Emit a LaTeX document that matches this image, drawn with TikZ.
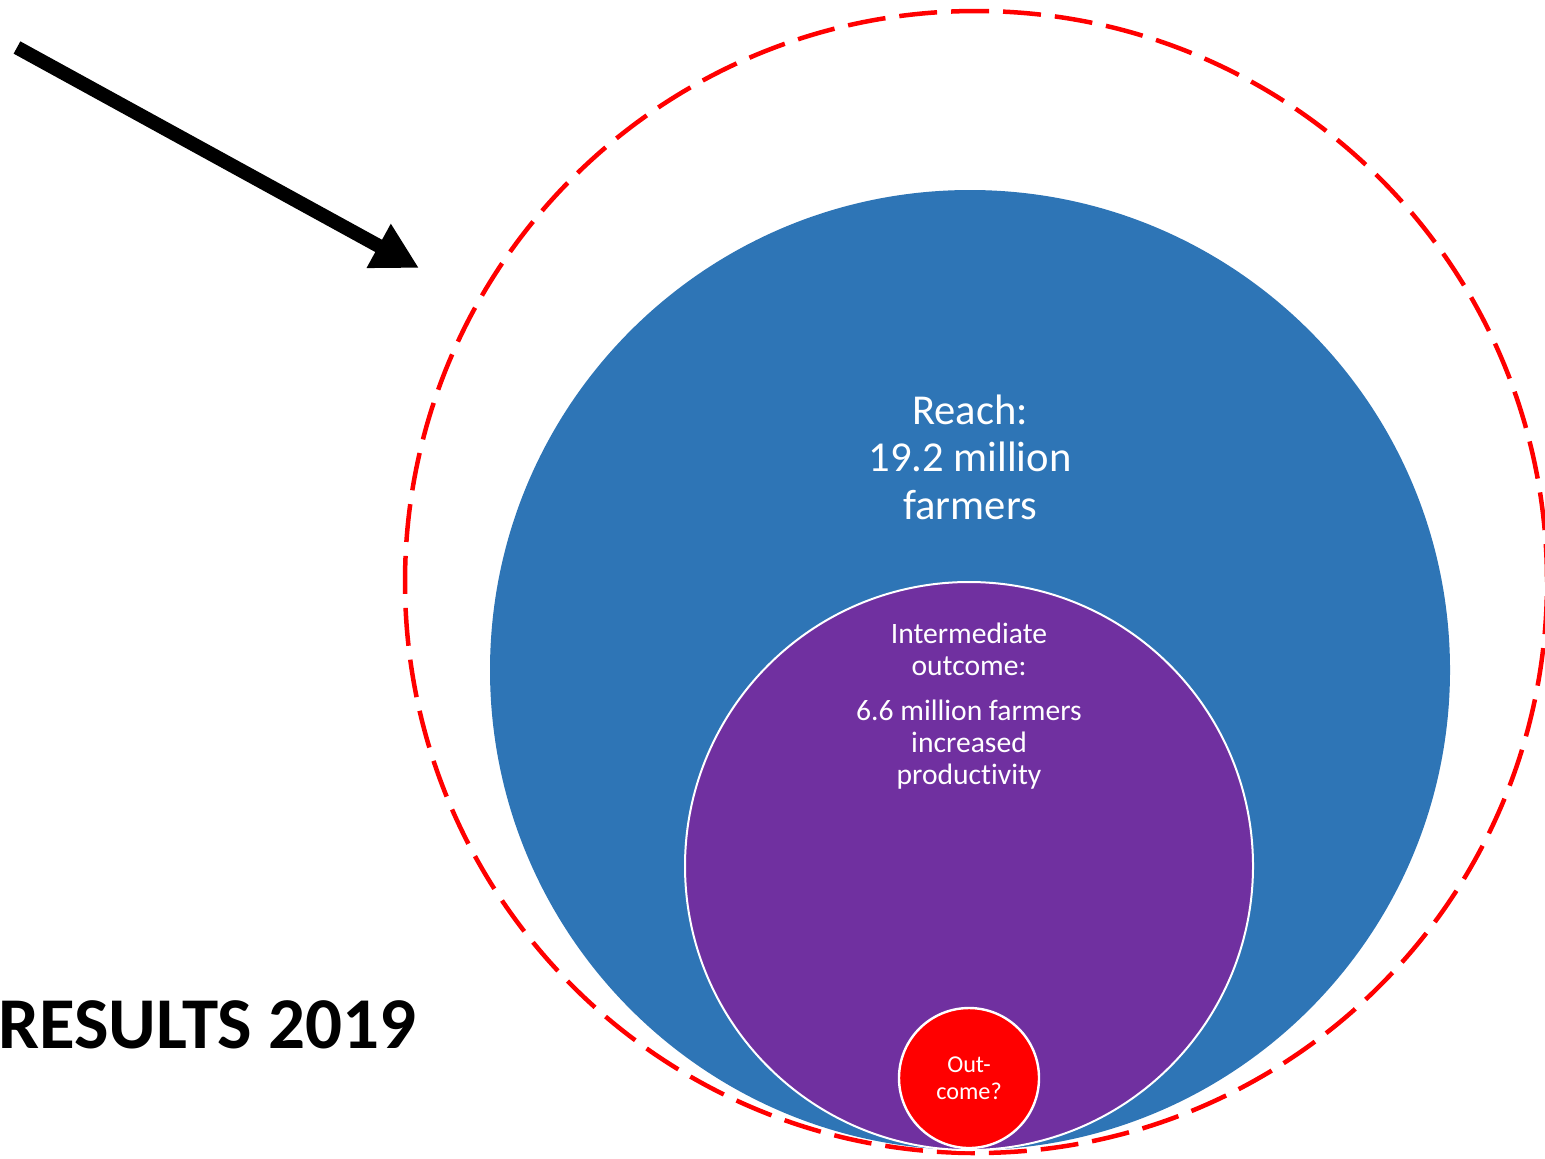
\documentclass[tikz,border=0pt]{standalone}
\usepackage{fontspec}
\setmainfont{Carlito}[Ligatures={NoCommon}]
\usetikzlibrary{arrows.meta}
\definecolor{reachblue}{RGB}{46,117,182}
\definecolor{outpurple}{RGB}{112,48,160}
\definecolor{outred}{RGB}{255,0,0}
\begin{document}
\begin{tikzpicture}[x=0.5pt,y=-0.5pt,
  disc/.style={circle,inner sep=0pt,outer sep=0pt},
  label/.style={inner sep=0pt,align=center,anchor=base,text=white}]
\useasboundingbox (0,0) rectangle (1545,1158);
\clip (0,0) rectangle (1545,1158);
% dashed outer circle
\node[disc,minimum size=571pt,draw=outred,line width=2.25pt,dash pattern=on 19pt off 7pt] (outer) at (976,582) {};
% reach
\node[disc,minimum size=480pt,fill=reachblue] (reach) at (970,670) {};
% intermediate outcome
\node[disc,minimum size=284pt,fill=outpurple,draw=white,line width=1pt] (inter) at (969,866) {};
% outcome
\node[disc,minimum size=70pt,fill=outred,draw=white,line width=1.2pt] (outc) at (969,1078) {};
% texts (base anchor = baseline of last line)
\node[label,font=\fontsize{21.3}{23.75}\selectfont] (reachtxt) at (970,519) {Reach:\\19.2 million\\farmers};
\node[label,font=\fontsize{14.8}{16}\selectfont] (intertxt) at (969,784) {Intermediate\\outcome:\\[6.5pt]6.6 million farmers\\increased\\productivity};
\node[label,font=\fontsize{12.1}{13.5}\selectfont] (outctxt) at (969,1099) {Out-\\come?};
\node[inner sep=0pt,anchor=base west,font=\fontsize{36.5}{40}\selectfont\bfseries] (title) at (-2,1048) {RESULTS 2019};
% arrow
\coordinate (astart) at (17,47.5);
\coordinate (aend) at (419,268);
\draw[line width=7pt,-{Triangle[width=23.5pt,length=23pt]}] (astart) -- (aend);
\end{tikzpicture}
\end{document}
